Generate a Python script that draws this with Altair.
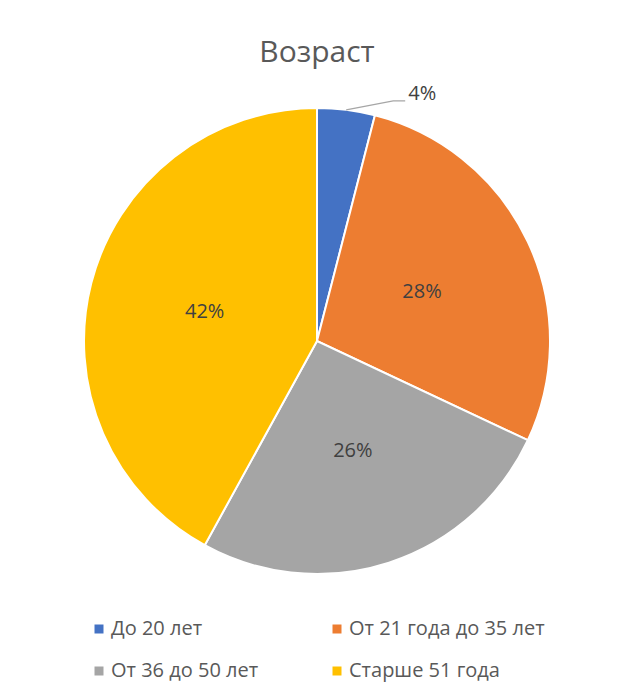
import math
import altair as alt
import pandas as pd

# ---- data ----
categories = ["До 20 лет", "От 21 года до 35 лет", "От 36 до 50 лет", "Старше 51 года"]
shares = [4, 28, 26, 42]
pct_labels = ["4%", "28%", "26%", "42%"]
colors = ["#4472C4", "#ED7D31", "#A5A5A5", "#FFC000"]
title_text = "Возраст"

# ---- layout constants ----
R = 233
FONT = "Open Sans"
INSIDE_MIN = 10  # slices below this share get an outside label

df = pd.DataFrame({
    "cat": categories,
    "share": shares,
    "idx": list(range(len(categories))),
    "inside": [l if s >= INSIDE_MIN else "" for l, s in zip(pct_labels, shares)],
})

# leader line for the small slice, starting at the slice's mid-angle on the rim
total = sum(shares)
cum = 0
lead_rows, out_rows = [], []
for s, l in zip(shares, pct_labels):
    mid = (cum + s / 2) / total * 2 * math.pi
    cum += s
    if s < INSIDE_MIN:
        sx, sy = R * math.sin(mid), R * math.cos(mid)
        pts = [(sx, sy), (sx + 47, sy + 9), (sx + 59, sy + 9)]
        for k, (px, py) in enumerate(pts):
            lead_rows.append({"x": px, "y": py, "o": k, "lab": l})
        out_rows.append({"x": pts[-1][0], "y": pts[-1][1], "lab": l})
lead_df = pd.DataFrame(lead_rows)
out_df = pd.DataFrame(out_rows)

base = alt.Chart(df)

pie = base.mark_arc(stroke="white", strokeWidth=2).encode(
    theta=alt.Theta("share:Q", stack=True),
    color=alt.Color(
        "cat:N",
        scale=alt.Scale(domain=categories, range=colors),
        legend=alt.Legend(
            title=None,
            orient="none",
            legendX=5,
            legendY=511,
            direction="horizontal",
            columns=2,
            columnPadding=68,
            rowPadding=22,
            symbolType="square",
            symbolSize=81,
            symbolStrokeWidth=0,
            labelOffset=2,
            labelFont=FONT,
            labelFontSize=20,
            labelColor="#595959",
            labelLimit=400,
        ),
    ),
    order=alt.Order("idx:Q"),
)

inside = base.mark_text(radius=116, font=FONT, fontSize=20, color="#404040").encode(
    theta=alt.Theta("share:Q", stack=True),
    text="inside:N",
    order=alt.Order("idx:Q"),
)

xs = alt.Scale(domain=[-R, R])
ys = alt.Scale(domain=[-R, R])

leader = alt.Chart(lead_df).mark_line(color="#A6A6A6", strokeWidth=1.3).encode(
    x=alt.X("x:Q", scale=xs, axis=None),
    y=alt.Y("y:Q", scale=ys, axis=None),
    order="o:Q",
)

outside = alt.Chart(out_df).mark_text(
    align="left", baseline="middle", dx=3, dy=-7, font=FONT, fontSize=20, color="#404040"
).encode(
    x=alt.X("x:Q", scale=xs, axis=None),
    y=alt.Y("y:Q", scale=ys, axis=None),
    text="lab:N",
)

chart = (
    alt.layer(pie, inside, leader, outside)
    .properties(
        width=2 * R,
        height=2 * R,
        autosize=alt.AutoSizeParams(type="none"),
        padding={"left": 76, "top": 100, "right": 55, "bottom": 110},
        background="white",
        title=alt.TitleParams(
            title_text,
            font=FONT,
            fontSize=30,
            fontWeight="normal",
            color="#595959",
            anchor="middle",
            offset=16,
        ),
    )
    .configure_view(strokeWidth=0)
)

chart.save("out.html", embed_options={"renderer": "svg", "actions": False})
